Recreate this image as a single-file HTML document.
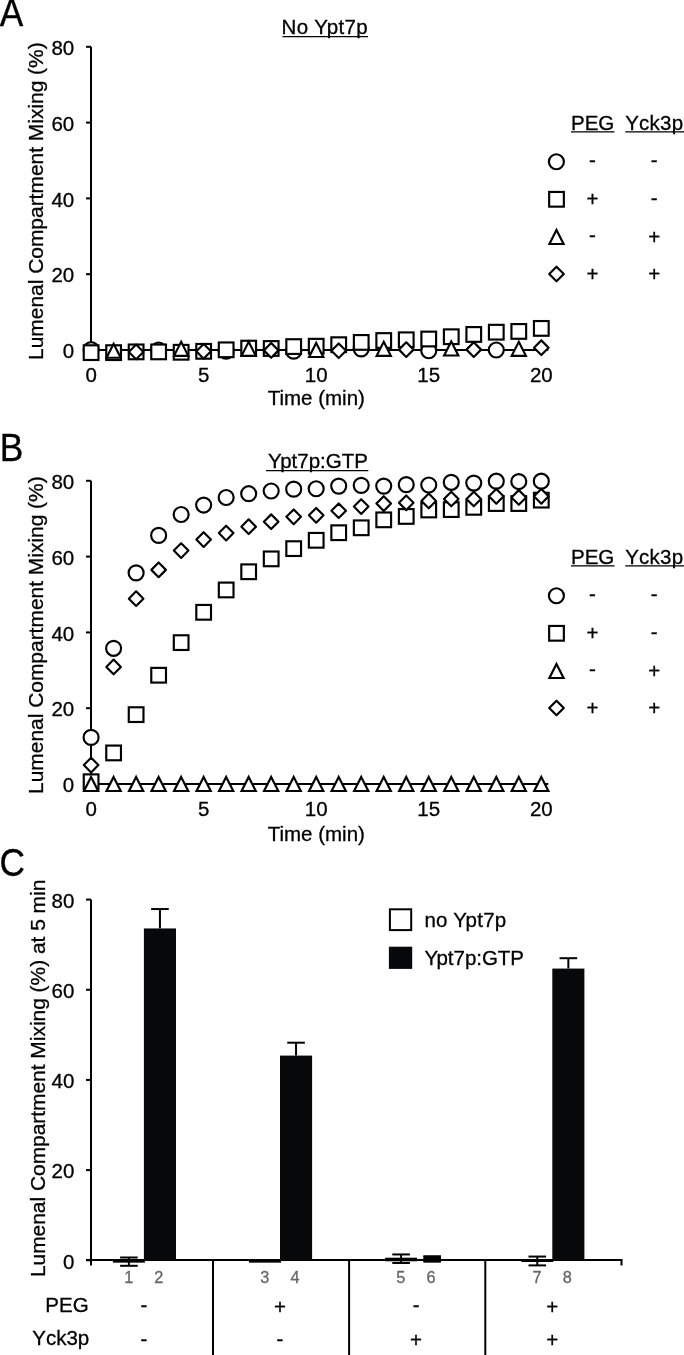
<!DOCTYPE html>
<html><head><meta charset="utf-8"><style>
html,body{margin:0;padding:0;background:#fff;}
body{width:684px;height:1355px;overflow:hidden;}
svg{display:block;filter:blur(0.4px);}
text{font-family:"Liberation Sans", sans-serif;}
</style></head><body>
<svg width="684" height="1355" viewBox="0 0 684 1355" font-family='"Liberation Sans", sans-serif'>
<rect width="684" height="1355" fill="#fff"/>
<text transform="translate(-0.3,25.9) scale(1,1.075)" font-size="35.3" fill="#000" stroke="#000" stroke-width="0.3">A</text>
<line x1="91.00" y1="46.70" x2="91.00" y2="350.00" stroke="#000" stroke-width="2.0"/>
<line x1="86.00" y1="350.00" x2="91.00" y2="350.00" stroke="#000" stroke-width="2.0"/>
<text x="74.20" y="358.20" font-size="20.5" text-anchor="end" fill="#000" stroke="#000" stroke-width="0.3" >0</text>
<line x1="86.00" y1="274.20" x2="91.00" y2="274.20" stroke="#000" stroke-width="2.0"/>
<text x="74.20" y="282.40" font-size="20.5" text-anchor="end" fill="#000" stroke="#000" stroke-width="0.3" >20</text>
<line x1="86.00" y1="198.40" x2="91.00" y2="198.40" stroke="#000" stroke-width="2.0"/>
<text x="74.20" y="206.60" font-size="20.5" text-anchor="end" fill="#000" stroke="#000" stroke-width="0.3" >40</text>
<line x1="86.00" y1="122.60" x2="91.00" y2="122.60" stroke="#000" stroke-width="2.0"/>
<text x="74.20" y="130.80" font-size="20.5" text-anchor="end" fill="#000" stroke="#000" stroke-width="0.3" >60</text>
<line x1="86.00" y1="46.80" x2="91.00" y2="46.80" stroke="#000" stroke-width="2.0"/>
<text x="74.20" y="55.00" font-size="20.5" text-anchor="end" fill="#000" stroke="#000" stroke-width="0.3" >80</text>
<line x1="91.00" y1="350.00" x2="548.30" y2="350.00" stroke="#000" stroke-width="2.0"/>
<text x="91.10" y="381.50" font-size="20.5" text-anchor="middle" fill="#000" stroke="#000" stroke-width="0.3" >0</text>
<text x="203.65" y="381.50" font-size="20.5" text-anchor="middle" fill="#000" stroke="#000" stroke-width="0.3" >5</text>
<text x="316.20" y="381.50" font-size="20.5" text-anchor="middle" fill="#000" stroke="#000" stroke-width="0.3" >10</text>
<text x="428.75" y="381.50" font-size="20.5" text-anchor="middle" fill="#000" stroke="#000" stroke-width="0.3" >15</text>
<text x="541.30" y="381.50" font-size="20.5" text-anchor="middle" fill="#000" stroke="#000" stroke-width="0.3" >20</text>
<text x="316.30" y="405.40" font-size="20.5" text-anchor="middle" fill="#000" stroke="#000" stroke-width="0.3" >Time (min)</text>
<text transform="translate(42.8,201.15) rotate(-90)" font-size="20.95" text-anchor="middle" stroke="#000" stroke-width="0.3">Lumenal Compartment Mixing (%)</text>
<text x="367.60" y="34.40" font-size="20.5" text-anchor="end" fill="#000" stroke="#000" stroke-width="0.3" textLength="86.0" lengthAdjust="spacing">No Ypt7p</text>
<g>
<line x1="282.50" y1="36.60" x2="368.00" y2="36.60" stroke="#000" stroke-width="1.3"/>
</g>
<circle cx="91.10" cy="349.62" r="7.5" fill="#fff" stroke="#000" stroke-width="2.15"/>
<circle cx="158.63" cy="350.00" r="7.5" fill="#fff" stroke="#000" stroke-width="2.15"/>
<circle cx="226.16" cy="351.14" r="7.5" fill="#fff" stroke="#000" stroke-width="2.15"/>
<circle cx="293.69" cy="351.14" r="7.5" fill="#fff" stroke="#000" stroke-width="2.15"/>
<circle cx="361.22" cy="348.86" r="7.5" fill="#fff" stroke="#000" stroke-width="2.15"/>
<circle cx="428.75" cy="350.76" r="7.5" fill="#fff" stroke="#000" stroke-width="2.15"/>
<circle cx="496.28" cy="350.00" r="7.5" fill="#fff" stroke="#000" stroke-width="2.15"/>
<rect x="83.75" y="345.30" width="14.70" height="14.70" fill="#fff" stroke="#000" stroke-width="2.15"/>
<rect x="106.26" y="345.30" width="14.70" height="14.70" fill="#fff" stroke="#000" stroke-width="2.15"/>
<rect x="128.77" y="344.54" width="14.70" height="14.70" fill="#fff" stroke="#000" stroke-width="2.15"/>
<rect x="151.28" y="344.54" width="14.70" height="14.70" fill="#fff" stroke="#000" stroke-width="2.15"/>
<rect x="173.79" y="344.92" width="14.70" height="14.70" fill="#fff" stroke="#000" stroke-width="2.15"/>
<rect x="196.30" y="343.98" width="14.70" height="14.70" fill="#fff" stroke="#000" stroke-width="2.15"/>
<rect x="218.81" y="342.46" width="14.70" height="14.70" fill="#fff" stroke="#000" stroke-width="2.15"/>
<rect x="241.32" y="340.75" width="14.70" height="14.70" fill="#fff" stroke="#000" stroke-width="2.15"/>
<rect x="263.83" y="341.13" width="14.70" height="14.70" fill="#fff" stroke="#000" stroke-width="2.15"/>
<rect x="286.34" y="339.24" width="14.70" height="14.70" fill="#fff" stroke="#000" stroke-width="2.15"/>
<rect x="308.85" y="338.86" width="14.70" height="14.70" fill="#fff" stroke="#000" stroke-width="2.15"/>
<rect x="331.36" y="337.34" width="14.70" height="14.70" fill="#fff" stroke="#000" stroke-width="2.15"/>
<rect x="353.87" y="335.07" width="14.70" height="14.70" fill="#fff" stroke="#000" stroke-width="2.15"/>
<rect x="376.38" y="333.17" width="14.70" height="14.70" fill="#fff" stroke="#000" stroke-width="2.15"/>
<rect x="398.89" y="332.42" width="14.70" height="14.70" fill="#fff" stroke="#000" stroke-width="2.15"/>
<rect x="421.40" y="331.66" width="14.70" height="14.70" fill="#fff" stroke="#000" stroke-width="2.15"/>
<rect x="443.91" y="329.38" width="14.70" height="14.70" fill="#fff" stroke="#000" stroke-width="2.15"/>
<rect x="466.42" y="327.11" width="14.70" height="14.70" fill="#fff" stroke="#000" stroke-width="2.15"/>
<rect x="488.93" y="324.84" width="14.70" height="14.70" fill="#fff" stroke="#000" stroke-width="2.15"/>
<rect x="511.44" y="324.08" width="14.70" height="14.70" fill="#fff" stroke="#000" stroke-width="2.15"/>
<rect x="533.95" y="321.05" width="14.70" height="14.70" fill="#fff" stroke="#000" stroke-width="2.15"/>
<polygon points="113.61,343.76 120.71,357.76 106.51,357.76" fill="#fff" stroke="#000" stroke-width="2.15" stroke-linejoin="miter"/>
<polygon points="181.14,341.86 188.24,355.86 174.04,355.86" fill="#fff" stroke="#000" stroke-width="2.15" stroke-linejoin="miter"/>
<polygon points="248.67,341.86 255.77,355.86 241.57,355.86" fill="#fff" stroke="#000" stroke-width="2.15" stroke-linejoin="miter"/>
<polygon points="316.20,343.00 323.30,357.00 309.10,357.00" fill="#fff" stroke="#000" stroke-width="2.15" stroke-linejoin="miter"/>
<polygon points="383.73,341.86 390.83,355.86 376.63,355.86" fill="#fff" stroke="#000" stroke-width="2.15" stroke-linejoin="miter"/>
<polygon points="451.26,341.48 458.36,355.48 444.16,355.48" fill="#fff" stroke="#000" stroke-width="2.15" stroke-linejoin="miter"/>
<polygon points="518.79,341.86 525.89,355.86 511.69,355.86" fill="#fff" stroke="#000" stroke-width="2.15" stroke-linejoin="miter"/>
<polygon points="136.12,344.54 143.42,351.89 136.12,359.25 128.82,351.89" fill="#fff" stroke="#000" stroke-width="2.15" stroke-linejoin="round"/>
<polygon points="203.65,343.98 210.95,351.33 203.65,358.68 196.35,351.33" fill="#fff" stroke="#000" stroke-width="2.15" stroke-linejoin="round"/>
<polygon points="271.18,343.03 278.48,350.38 271.18,357.73 263.88,350.38" fill="#fff" stroke="#000" stroke-width="2.15" stroke-linejoin="round"/>
<polygon points="338.71,343.41 346.01,350.76 338.71,358.11 331.41,350.76" fill="#fff" stroke="#000" stroke-width="2.15" stroke-linejoin="round"/>
<polygon points="406.24,342.27 413.54,349.62 406.24,356.97 398.94,349.62" fill="#fff" stroke="#000" stroke-width="2.15" stroke-linejoin="round"/>
<polygon points="473.77,342.27 481.07,349.62 473.77,356.97 466.47,349.62" fill="#fff" stroke="#000" stroke-width="2.15" stroke-linejoin="round"/>
<polygon points="541.30,340.38 548.60,347.73 541.30,355.08 534.00,347.73" fill="#fff" stroke="#000" stroke-width="2.15" stroke-linejoin="round"/>
<text x="571.00" y="129.50" font-size="20.5" text-anchor="start" fill="#000" stroke="#000" stroke-width="0.3" >PEG</text>
<line x1="571.00" y1="131.90" x2="614.50" y2="131.90" stroke="#000" stroke-width="1.3"/>
<text x="625.20" y="129.50" font-size="20.5" text-anchor="start" fill="#000" stroke="#000" stroke-width="0.3" textLength="57.9" lengthAdjust="spacing">Yck3p</text>
<line x1="625.30" y1="131.90" x2="684.00" y2="131.90" stroke="#000" stroke-width="1.3"/>
<circle cx="556.40" cy="161.70" r="7.5" fill="#fff" stroke="#000" stroke-width="2.15"/>
<rect x="549.15" y="191.95" width="14.70" height="14.70" fill="#fff" stroke="#000" stroke-width="2.15"/>
<polygon points="556.50,230.00 563.60,244.00 549.40,244.00" fill="#fff" stroke="#000" stroke-width="2.15" stroke-linejoin="miter"/>
<polygon points="556.50,266.65 563.80,274.00 556.50,281.35 549.20,274.00" fill="#fff" stroke="#000" stroke-width="2.15" stroke-linejoin="round"/>
<text x="592.40" y="167.00" font-size="20.5" text-anchor="middle" fill="#000" stroke="#000" stroke-width="0.3" >-</text>
<text x="654.20" y="167.00" font-size="20.5" text-anchor="middle" fill="#000" stroke="#000" stroke-width="0.3" >-</text>
<text x="592.40" y="205.80" font-size="20.5" text-anchor="middle" fill="#000" stroke="#000" stroke-width="0.3" >+</text>
<text x="654.20" y="204.60" font-size="20.5" text-anchor="middle" fill="#000" stroke="#000" stroke-width="0.3" >-</text>
<text x="592.40" y="242.30" font-size="20.5" text-anchor="middle" fill="#000" stroke="#000" stroke-width="0.3" >-</text>
<text x="654.20" y="243.50" font-size="20.5" text-anchor="middle" fill="#000" stroke="#000" stroke-width="0.3" >+</text>
<text x="592.40" y="280.50" font-size="20.5" text-anchor="middle" fill="#000" stroke="#000" stroke-width="0.3" >+</text>
<text x="654.20" y="280.50" font-size="20.5" text-anchor="middle" fill="#000" stroke="#000" stroke-width="0.3" >+</text>
<text transform="translate(-0.3,460.7) scale(1,1.075)" font-size="35.3" fill="#000" stroke="#000" stroke-width="0.3">B</text>
<line x1="91.00" y1="480.70" x2="91.00" y2="784.00" stroke="#000" stroke-width="2.0"/>
<line x1="86.00" y1="784.00" x2="91.00" y2="784.00" stroke="#000" stroke-width="2.0"/>
<text x="74.20" y="792.20" font-size="20.5" text-anchor="end" fill="#000" stroke="#000" stroke-width="0.3" >0</text>
<line x1="86.00" y1="708.20" x2="91.00" y2="708.20" stroke="#000" stroke-width="2.0"/>
<text x="74.20" y="716.40" font-size="20.5" text-anchor="end" fill="#000" stroke="#000" stroke-width="0.3" >20</text>
<line x1="86.00" y1="632.40" x2="91.00" y2="632.40" stroke="#000" stroke-width="2.0"/>
<text x="74.20" y="640.60" font-size="20.5" text-anchor="end" fill="#000" stroke="#000" stroke-width="0.3" >40</text>
<line x1="86.00" y1="556.60" x2="91.00" y2="556.60" stroke="#000" stroke-width="2.0"/>
<text x="74.20" y="564.80" font-size="20.5" text-anchor="end" fill="#000" stroke="#000" stroke-width="0.3" >60</text>
<line x1="86.00" y1="480.80" x2="91.00" y2="480.80" stroke="#000" stroke-width="2.0"/>
<text x="74.20" y="489.00" font-size="20.5" text-anchor="end" fill="#000" stroke="#000" stroke-width="0.3" >80</text>
<line x1="91.00" y1="784.00" x2="548.30" y2="784.00" stroke="#000" stroke-width="2.0"/>
<text x="91.10" y="815.50" font-size="20.5" text-anchor="middle" fill="#000" stroke="#000" stroke-width="0.3" >0</text>
<text x="203.65" y="815.50" font-size="20.5" text-anchor="middle" fill="#000" stroke="#000" stroke-width="0.3" >5</text>
<text x="316.20" y="815.50" font-size="20.5" text-anchor="middle" fill="#000" stroke="#000" stroke-width="0.3" >10</text>
<text x="428.75" y="815.50" font-size="20.5" text-anchor="middle" fill="#000" stroke="#000" stroke-width="0.3" >15</text>
<text x="541.30" y="815.50" font-size="20.5" text-anchor="middle" fill="#000" stroke="#000" stroke-width="0.3" >20</text>
<text x="316.30" y="841.20" font-size="20.5" text-anchor="middle" fill="#000" stroke="#000" stroke-width="0.3" >Time (min)</text>
<text transform="translate(42.8,635.15) rotate(-90)" font-size="20.95" text-anchor="middle" stroke="#000" stroke-width="0.3">Lumenal Compartment Mixing (%)</text>
<text x="367.90" y="468.40" font-size="20.5" text-anchor="end" fill="#000" stroke="#000" stroke-width="0.3" >Ypt7p:GTP</text>
<line x1="266.00" y1="470.60" x2="368.30" y2="470.60" stroke="#000" stroke-width="1.3"/>
<circle cx="91.10" cy="737.38" r="7.5" fill="#fff" stroke="#000" stroke-width="2.15"/>
<circle cx="113.61" cy="648.32" r="7.5" fill="#fff" stroke="#000" stroke-width="2.15"/>
<circle cx="136.12" cy="572.90" r="7.5" fill="#fff" stroke="#000" stroke-width="2.15"/>
<circle cx="158.63" cy="535.38" r="7.5" fill="#fff" stroke="#000" stroke-width="2.15"/>
<circle cx="181.14" cy="514.53" r="7.5" fill="#fff" stroke="#000" stroke-width="2.15"/>
<circle cx="203.65" cy="505.06" r="7.5" fill="#fff" stroke="#000" stroke-width="2.15"/>
<circle cx="226.16" cy="497.48" r="7.5" fill="#fff" stroke="#000" stroke-width="2.15"/>
<circle cx="248.67" cy="493.69" r="7.5" fill="#fff" stroke="#000" stroke-width="2.15"/>
<circle cx="271.18" cy="491.03" r="7.5" fill="#fff" stroke="#000" stroke-width="2.15"/>
<circle cx="293.69" cy="489.14" r="7.5" fill="#fff" stroke="#000" stroke-width="2.15"/>
<circle cx="316.20" cy="488.76" r="7.5" fill="#fff" stroke="#000" stroke-width="2.15"/>
<circle cx="338.71" cy="486.11" r="7.5" fill="#fff" stroke="#000" stroke-width="2.15"/>
<circle cx="361.22" cy="485.35" r="7.5" fill="#fff" stroke="#000" stroke-width="2.15"/>
<circle cx="383.73" cy="486.11" r="7.5" fill="#fff" stroke="#000" stroke-width="2.15"/>
<circle cx="406.24" cy="484.59" r="7.5" fill="#fff" stroke="#000" stroke-width="2.15"/>
<circle cx="428.75" cy="484.97" r="7.5" fill="#fff" stroke="#000" stroke-width="2.15"/>
<circle cx="451.26" cy="482.32" r="7.5" fill="#fff" stroke="#000" stroke-width="2.15"/>
<circle cx="473.77" cy="483.07" r="7.5" fill="#fff" stroke="#000" stroke-width="2.15"/>
<circle cx="496.28" cy="481.18" r="7.5" fill="#fff" stroke="#000" stroke-width="2.15"/>
<circle cx="518.79" cy="481.56" r="7.5" fill="#fff" stroke="#000" stroke-width="2.15"/>
<circle cx="541.30" cy="481.18" r="7.5" fill="#fff" stroke="#000" stroke-width="2.15"/>
<rect x="83.75" y="774.38" width="14.70" height="14.70" fill="#fff" stroke="#000" stroke-width="2.15"/>
<rect x="106.26" y="745.57" width="14.70" height="14.70" fill="#fff" stroke="#000" stroke-width="2.15"/>
<rect x="128.77" y="707.29" width="14.70" height="14.70" fill="#fff" stroke="#000" stroke-width="2.15"/>
<rect x="151.28" y="667.88" width="14.70" height="14.70" fill="#fff" stroke="#000" stroke-width="2.15"/>
<rect x="173.79" y="635.28" width="14.70" height="14.70" fill="#fff" stroke="#000" stroke-width="2.15"/>
<rect x="196.30" y="604.96" width="14.70" height="14.70" fill="#fff" stroke="#000" stroke-width="2.15"/>
<rect x="218.81" y="582.60" width="14.70" height="14.70" fill="#fff" stroke="#000" stroke-width="2.15"/>
<rect x="241.32" y="564.41" width="14.70" height="14.70" fill="#fff" stroke="#000" stroke-width="2.15"/>
<rect x="263.83" y="551.52" width="14.70" height="14.70" fill="#fff" stroke="#000" stroke-width="2.15"/>
<rect x="286.34" y="541.29" width="14.70" height="14.70" fill="#fff" stroke="#000" stroke-width="2.15"/>
<rect x="308.85" y="532.95" width="14.70" height="14.70" fill="#fff" stroke="#000" stroke-width="2.15"/>
<rect x="331.36" y="525.37" width="14.70" height="14.70" fill="#fff" stroke="#000" stroke-width="2.15"/>
<rect x="353.87" y="520.45" width="14.70" height="14.70" fill="#fff" stroke="#000" stroke-width="2.15"/>
<rect x="376.38" y="512.49" width="14.70" height="14.70" fill="#fff" stroke="#000" stroke-width="2.15"/>
<rect x="398.89" y="509.08" width="14.70" height="14.70" fill="#fff" stroke="#000" stroke-width="2.15"/>
<rect x="421.40" y="502.63" width="14.70" height="14.70" fill="#fff" stroke="#000" stroke-width="2.15"/>
<rect x="443.91" y="502.25" width="14.70" height="14.70" fill="#fff" stroke="#000" stroke-width="2.15"/>
<rect x="466.42" y="499.98" width="14.70" height="14.70" fill="#fff" stroke="#000" stroke-width="2.15"/>
<rect x="488.93" y="496.19" width="14.70" height="14.70" fill="#fff" stroke="#000" stroke-width="2.15"/>
<rect x="511.44" y="496.19" width="14.70" height="14.70" fill="#fff" stroke="#000" stroke-width="2.15"/>
<rect x="533.95" y="492.78" width="14.70" height="14.70" fill="#fff" stroke="#000" stroke-width="2.15"/>
<polygon points="91.10,777.00 98.20,791.00 84.00,791.00" fill="#fff" stroke="#000" stroke-width="2.15" stroke-linejoin="miter"/>
<polygon points="113.61,777.00 120.71,791.00 106.51,791.00" fill="#fff" stroke="#000" stroke-width="2.15" stroke-linejoin="miter"/>
<polygon points="136.12,777.00 143.22,791.00 129.02,791.00" fill="#fff" stroke="#000" stroke-width="2.15" stroke-linejoin="miter"/>
<polygon points="158.63,777.00 165.73,791.00 151.53,791.00" fill="#fff" stroke="#000" stroke-width="2.15" stroke-linejoin="miter"/>
<polygon points="181.14,777.00 188.24,791.00 174.04,791.00" fill="#fff" stroke="#000" stroke-width="2.15" stroke-linejoin="miter"/>
<polygon points="203.65,777.00 210.75,791.00 196.55,791.00" fill="#fff" stroke="#000" stroke-width="2.15" stroke-linejoin="miter"/>
<polygon points="226.16,777.00 233.26,791.00 219.06,791.00" fill="#fff" stroke="#000" stroke-width="2.15" stroke-linejoin="miter"/>
<polygon points="248.67,777.00 255.77,791.00 241.57,791.00" fill="#fff" stroke="#000" stroke-width="2.15" stroke-linejoin="miter"/>
<polygon points="271.18,777.00 278.28,791.00 264.08,791.00" fill="#fff" stroke="#000" stroke-width="2.15" stroke-linejoin="miter"/>
<polygon points="293.69,777.00 300.79,791.00 286.59,791.00" fill="#fff" stroke="#000" stroke-width="2.15" stroke-linejoin="miter"/>
<polygon points="316.20,777.00 323.30,791.00 309.10,791.00" fill="#fff" stroke="#000" stroke-width="2.15" stroke-linejoin="miter"/>
<polygon points="338.71,777.00 345.81,791.00 331.61,791.00" fill="#fff" stroke="#000" stroke-width="2.15" stroke-linejoin="miter"/>
<polygon points="361.22,777.00 368.32,791.00 354.12,791.00" fill="#fff" stroke="#000" stroke-width="2.15" stroke-linejoin="miter"/>
<polygon points="383.73,777.00 390.83,791.00 376.63,791.00" fill="#fff" stroke="#000" stroke-width="2.15" stroke-linejoin="miter"/>
<polygon points="406.24,777.00 413.34,791.00 399.14,791.00" fill="#fff" stroke="#000" stroke-width="2.15" stroke-linejoin="miter"/>
<polygon points="428.75,777.00 435.85,791.00 421.65,791.00" fill="#fff" stroke="#000" stroke-width="2.15" stroke-linejoin="miter"/>
<polygon points="451.26,777.00 458.36,791.00 444.16,791.00" fill="#fff" stroke="#000" stroke-width="2.15" stroke-linejoin="miter"/>
<polygon points="473.77,777.00 480.87,791.00 466.67,791.00" fill="#fff" stroke="#000" stroke-width="2.15" stroke-linejoin="miter"/>
<polygon points="496.28,777.00 503.38,791.00 489.18,791.00" fill="#fff" stroke="#000" stroke-width="2.15" stroke-linejoin="miter"/>
<polygon points="518.79,777.00 525.89,791.00 511.69,791.00" fill="#fff" stroke="#000" stroke-width="2.15" stroke-linejoin="miter"/>
<polygon points="541.30,777.00 548.40,791.00 534.20,791.00" fill="#fff" stroke="#000" stroke-width="2.15" stroke-linejoin="miter"/>
<polygon points="91.10,757.70 98.40,765.05 91.10,772.40 83.80,765.05" fill="#fff" stroke="#000" stroke-width="2.15" stroke-linejoin="round"/>
<polygon points="113.61,659.54 120.91,666.89 113.61,674.24 106.31,666.89" fill="#fff" stroke="#000" stroke-width="2.15" stroke-linejoin="round"/>
<polygon points="136.12,591.32 143.42,598.67 136.12,606.02 128.82,598.67" fill="#fff" stroke="#000" stroke-width="2.15" stroke-linejoin="round"/>
<polygon points="158.63,562.51 165.93,569.87 158.63,577.22 151.33,569.87" fill="#fff" stroke="#000" stroke-width="2.15" stroke-linejoin="round"/>
<polygon points="181.14,543.19 188.44,550.54 181.14,557.89 173.84,550.54" fill="#fff" stroke="#000" stroke-width="2.15" stroke-linejoin="round"/>
<polygon points="203.65,532.19 210.95,539.54 203.65,546.89 196.35,539.54" fill="#fff" stroke="#000" stroke-width="2.15" stroke-linejoin="round"/>
<polygon points="226.16,525.75 233.46,533.10 226.16,540.45 218.86,533.10" fill="#fff" stroke="#000" stroke-width="2.15" stroke-linejoin="round"/>
<polygon points="248.67,519.31 255.97,526.66 248.67,534.01 241.37,526.66" fill="#fff" stroke="#000" stroke-width="2.15" stroke-linejoin="round"/>
<polygon points="271.18,514.38 278.48,521.73 271.18,529.08 263.88,521.73" fill="#fff" stroke="#000" stroke-width="2.15" stroke-linejoin="round"/>
<polygon points="293.69,509.46 300.99,516.81 293.69,524.16 286.39,516.81" fill="#fff" stroke="#000" stroke-width="2.15" stroke-linejoin="round"/>
<polygon points="316.20,507.94 323.50,515.29 316.20,522.64 308.90,515.29" fill="#fff" stroke="#000" stroke-width="2.15" stroke-linejoin="round"/>
<polygon points="338.71,503.39 346.01,510.74 338.71,518.09 331.41,510.74" fill="#fff" stroke="#000" stroke-width="2.15" stroke-linejoin="round"/>
<polygon points="361.22,499.22 368.52,506.57 361.22,513.92 353.92,506.57" fill="#fff" stroke="#000" stroke-width="2.15" stroke-linejoin="round"/>
<polygon points="383.73,496.19 391.03,503.54 383.73,510.89 376.43,503.54" fill="#fff" stroke="#000" stroke-width="2.15" stroke-linejoin="round"/>
<polygon points="406.24,495.43 413.54,502.78 406.24,510.13 398.94,502.78" fill="#fff" stroke="#000" stroke-width="2.15" stroke-linejoin="round"/>
<polygon points="428.75,493.54 436.05,500.89 428.75,508.24 421.45,500.89" fill="#fff" stroke="#000" stroke-width="2.15" stroke-linejoin="round"/>
<polygon points="451.26,491.64 458.56,498.99 451.26,506.34 443.96,498.99" fill="#fff" stroke="#000" stroke-width="2.15" stroke-linejoin="round"/>
<polygon points="473.77,491.64 481.07,498.99 473.77,506.34 466.47,498.99" fill="#fff" stroke="#000" stroke-width="2.15" stroke-linejoin="round"/>
<polygon points="496.28,488.99 503.58,496.34 496.28,503.69 488.98,496.34" fill="#fff" stroke="#000" stroke-width="2.15" stroke-linejoin="round"/>
<polygon points="518.79,490.13 526.09,497.48 518.79,504.83 511.49,497.48" fill="#fff" stroke="#000" stroke-width="2.15" stroke-linejoin="round"/>
<polygon points="541.30,488.99 548.60,496.34 541.30,503.69 534.00,496.34" fill="#fff" stroke="#000" stroke-width="2.15" stroke-linejoin="round"/>
<text x="571.00" y="563.50" font-size="20.5" text-anchor="start" fill="#000" stroke="#000" stroke-width="0.3" >PEG</text>
<line x1="571.00" y1="565.90" x2="614.50" y2="565.90" stroke="#000" stroke-width="1.3"/>
<text x="625.20" y="563.50" font-size="20.5" text-anchor="start" fill="#000" stroke="#000" stroke-width="0.3" textLength="57.9" lengthAdjust="spacing">Yck3p</text>
<line x1="625.30" y1="565.90" x2="684.00" y2="565.90" stroke="#000" stroke-width="1.3"/>
<circle cx="556.40" cy="595.70" r="7.5" fill="#fff" stroke="#000" stroke-width="2.15"/>
<rect x="549.15" y="625.95" width="14.70" height="14.70" fill="#fff" stroke="#000" stroke-width="2.15"/>
<polygon points="556.50,664.00 563.60,678.00 549.40,678.00" fill="#fff" stroke="#000" stroke-width="2.15" stroke-linejoin="miter"/>
<polygon points="556.50,700.65 563.80,708.00 556.50,715.35 549.20,708.00" fill="#fff" stroke="#000" stroke-width="2.15" stroke-linejoin="round"/>
<text x="592.40" y="601.00" font-size="20.5" text-anchor="middle" fill="#000" stroke="#000" stroke-width="0.3" >-</text>
<text x="654.20" y="601.00" font-size="20.5" text-anchor="middle" fill="#000" stroke="#000" stroke-width="0.3" >-</text>
<text x="592.40" y="639.80" font-size="20.5" text-anchor="middle" fill="#000" stroke="#000" stroke-width="0.3" >+</text>
<text x="654.20" y="638.60" font-size="20.5" text-anchor="middle" fill="#000" stroke="#000" stroke-width="0.3" >-</text>
<text x="592.40" y="676.30" font-size="20.5" text-anchor="middle" fill="#000" stroke="#000" stroke-width="0.3" >-</text>
<text x="654.20" y="677.50" font-size="20.5" text-anchor="middle" fill="#000" stroke="#000" stroke-width="0.3" >+</text>
<text x="592.40" y="714.50" font-size="20.5" text-anchor="middle" fill="#000" stroke="#000" stroke-width="0.3" >+</text>
<text x="654.20" y="714.50" font-size="20.5" text-anchor="middle" fill="#000" stroke="#000" stroke-width="0.3" >+</text>
<text transform="translate(-0.6,876.3) scale(1,1.075)" font-size="35.3" fill="#000" stroke="#000" stroke-width="0.3">C</text>
<line x1="91.00" y1="899.60" x2="91.00" y2="1265.50" stroke="#000" stroke-width="2.0"/>
<line x1="86.00" y1="1260.30" x2="91.00" y2="1260.30" stroke="#000" stroke-width="2.0"/>
<text x="74.40" y="1268.50" font-size="20.5" text-anchor="end" fill="#000" stroke="#000" stroke-width="0.3" >0</text>
<line x1="86.00" y1="1170.12" x2="91.00" y2="1170.12" stroke="#000" stroke-width="2.0"/>
<text x="74.40" y="1178.32" font-size="20.5" text-anchor="end" fill="#000" stroke="#000" stroke-width="0.3" >20</text>
<line x1="86.00" y1="1079.94" x2="91.00" y2="1079.94" stroke="#000" stroke-width="2.0"/>
<text x="74.40" y="1088.14" font-size="20.5" text-anchor="end" fill="#000" stroke="#000" stroke-width="0.3" >40</text>
<line x1="86.00" y1="989.76" x2="91.00" y2="989.76" stroke="#000" stroke-width="2.0"/>
<text x="74.40" y="997.96" font-size="20.5" text-anchor="end" fill="#000" stroke="#000" stroke-width="0.3" >60</text>
<line x1="86.00" y1="899.58" x2="91.00" y2="899.58" stroke="#000" stroke-width="2.0"/>
<text x="74.40" y="907.78" font-size="20.5" text-anchor="end" fill="#000" stroke="#000" stroke-width="0.3" >80</text>
<line x1="86.00" y1="1260.00" x2="622.50" y2="1260.00" stroke="#000" stroke-width="2.0"/>
<line x1="621.50" y1="1260.00" x2="621.50" y2="1265.50" stroke="#000" stroke-width="2.0"/>
<text transform="translate(44.6,1078.4) rotate(-90)" font-size="20.92" text-anchor="middle" stroke="#000" stroke-width="0.3">Lumenal Compartment Mixing (%) at 5 min</text>
<rect x="113.90" y="1260.30" width="30.0" height="1.35" fill="#fff" stroke="#000" stroke-width="2"/>
<line x1="128.90" y1="1257.50" x2="128.90" y2="1265.80" stroke="#000" stroke-width="2"/>
<line x1="120.10" y1="1257.50" x2="137.70" y2="1257.50" stroke="#000" stroke-width="2"/>
<line x1="120.10" y1="1265.80" x2="137.70" y2="1265.80" stroke="#000" stroke-width="2"/>
<rect x="143.90" y="928.44" width="32.10" height="331.86" fill="#06080a"/>
<line x1="159.95" y1="909.05" x2="159.95" y2="928.44" stroke="#000" stroke-width="2"/>
<line x1="151.15" y1="909.05" x2="168.75" y2="909.05" stroke="#000" stroke-width="2"/>
<text x="128.70" y="1283.00" font-size="16.3" text-anchor="middle" fill="#666" stroke="#666" stroke-width="0.3" >1</text>
<text x="158.90" y="1283.00" font-size="16.3" text-anchor="middle" fill="#666" stroke="#666" stroke-width="0.3" >2</text>
<rect x="250.00" y="1260.30" width="30.0" height="1.35" fill="#fff" stroke="#000" stroke-width="2"/>
<rect x="280.00" y="1055.59" width="32.10" height="204.71" fill="#06080a"/>
<line x1="296.05" y1="1042.70" x2="296.05" y2="1055.59" stroke="#000" stroke-width="2"/>
<line x1="287.25" y1="1042.70" x2="304.85" y2="1042.70" stroke="#000" stroke-width="2"/>
<text x="264.80" y="1283.00" font-size="16.3" text-anchor="middle" fill="#666" stroke="#666" stroke-width="0.3" >3</text>
<text x="295.00" y="1283.00" font-size="16.3" text-anchor="middle" fill="#666" stroke="#666" stroke-width="0.3" >4</text>
<rect x="386.10" y="1258.72" width="30.0" height="1.58" fill="#fff" stroke="#000" stroke-width="2"/>
<line x1="401.10" y1="1254.44" x2="401.10" y2="1263.01" stroke="#000" stroke-width="2"/>
<line x1="392.30" y1="1254.44" x2="409.90" y2="1254.44" stroke="#000" stroke-width="2"/>
<line x1="392.30" y1="1263.01" x2="409.90" y2="1263.01" stroke="#000" stroke-width="2"/>
<rect x="416.10" y="1258.95" width="32.10" height="1.35" fill="#06080a"/>
<line x1="432.15" y1="1256.24" x2="432.15" y2="1258.95" stroke="#000" stroke-width="2"/>
<line x1="423.35" y1="1256.24" x2="440.95" y2="1256.24" stroke="#000" stroke-width="2"/>
<line x1="432.15" y1="1256.24" x2="432.15" y2="1261.65" stroke="#000" stroke-width="2"/>
<line x1="423.35" y1="1261.65" x2="440.95" y2="1261.65" stroke="#000" stroke-width="2"/>
<rect x="423.35" y="1256.24" width="17.6" height="5.41" fill="#000"/>
<text x="400.90" y="1283.00" font-size="16.3" text-anchor="middle" fill="#666" stroke="#666" stroke-width="0.3" >5</text>
<text x="431.10" y="1283.00" font-size="16.3" text-anchor="middle" fill="#666" stroke="#666" stroke-width="0.3" >6</text>
<rect x="522.30" y="1260.30" width="30.0" height="0.68" fill="#fff" stroke="#000" stroke-width="2"/>
<line x1="537.30" y1="1256.56" x2="537.30" y2="1265.40" stroke="#000" stroke-width="2"/>
<line x1="528.50" y1="1256.56" x2="546.10" y2="1256.56" stroke="#000" stroke-width="2"/>
<line x1="528.50" y1="1265.40" x2="546.10" y2="1265.40" stroke="#000" stroke-width="2"/>
<rect x="552.30" y="968.57" width="32.10" height="291.73" fill="#06080a"/>
<line x1="568.35" y1="958.20" x2="568.35" y2="968.57" stroke="#000" stroke-width="2"/>
<line x1="559.55" y1="958.20" x2="577.15" y2="958.20" stroke="#000" stroke-width="2"/>
<text x="537.10" y="1283.00" font-size="16.3" text-anchor="middle" fill="#666" stroke="#666" stroke-width="0.3" >7</text>
<text x="567.30" y="1283.00" font-size="16.3" text-anchor="middle" fill="#666" stroke="#666" stroke-width="0.3" >8</text>
<line x1="213.00" y1="1260.00" x2="213.00" y2="1355.00" stroke="#000" stroke-width="2.0"/>
<line x1="349.10" y1="1260.00" x2="349.10" y2="1355.00" stroke="#000" stroke-width="2.0"/>
<line x1="485.30" y1="1260.00" x2="485.30" y2="1355.00" stroke="#000" stroke-width="2.0"/>
<text x="88.60" y="1311.90" font-size="20.5" text-anchor="end" fill="#000" stroke="#000" stroke-width="0.3" >PEG</text>
<text x="89.20" y="1345.10" font-size="20.5" text-anchor="end" fill="#000" stroke="#000" stroke-width="0.3" >Yck3p</text>
<text x="143.90" y="1311.90" font-size="20.5" text-anchor="middle" fill="#000" stroke="#000" stroke-width="0.3" >-</text>
<text x="143.90" y="1345.60" font-size="20.5" text-anchor="middle" fill="#000" stroke="#000" stroke-width="0.3" >-</text>
<text x="280.00" y="1313.50" font-size="20.5" text-anchor="middle" fill="#000" stroke="#000" stroke-width="0.3" >+</text>
<text x="280.00" y="1345.60" font-size="20.5" text-anchor="middle" fill="#000" stroke="#000" stroke-width="0.3" >-</text>
<text x="416.10" y="1311.90" font-size="20.5" text-anchor="middle" fill="#000" stroke="#000" stroke-width="0.3" >-</text>
<text x="416.10" y="1347.00" font-size="20.5" text-anchor="middle" fill="#000" stroke="#000" stroke-width="0.3" >+</text>
<text x="552.30" y="1313.50" font-size="20.5" text-anchor="middle" fill="#000" stroke="#000" stroke-width="0.3" >+</text>
<text x="552.30" y="1347.00" font-size="20.5" text-anchor="middle" fill="#000" stroke="#000" stroke-width="0.3" >+</text>
<rect x="389.9" y="909.3" width="21.3" height="20.8" fill="#fff" stroke="#000" stroke-width="2"/>
<rect x="388.9" y="946.7" width="23.3" height="22.2" fill="#06080a"/>
<text x="424.40" y="926.90" font-size="20.5" text-anchor="start" fill="#000" stroke="#000" stroke-width="0.3" textLength="81.8" lengthAdjust="spacing">no Ypt7p</text>
<text x="424.40" y="964.60" font-size="20.5" text-anchor="start" fill="#000" stroke="#000" stroke-width="0.3" textLength="99.6" lengthAdjust="spacing">Ypt7p:GTP</text>
</svg>
</body></html>
